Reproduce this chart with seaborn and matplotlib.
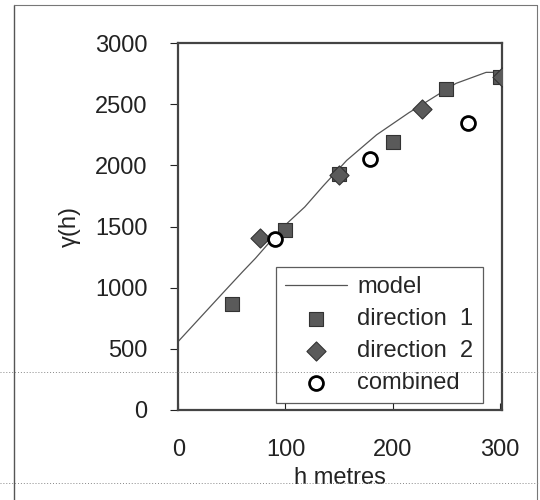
"""
Variogram chart: model curve with experimental semivariances.
"""

import numpy as np
import pandas as pd
import matplotlib
matplotlib.use('Agg')
import matplotlib.pyplot as plt
from matplotlib.lines import Line2D
import seaborn as sns

# model curve
h_model = [0, 42, 60, 72, 87, 102, 118, 135, 157, 185, 215, 259, 287, 300]
g_model = [560, 960, 1130, 1240, 1390, 1530, 1660, 1830, 2040, 2250, 2430, 2670, 2760, 2760]

# experimental points
h_dir1 = [50, 100, 150, 200, 250, 300]
g_dir1 = [870, 1470, 1930, 2190, 2620, 2720]

h_dir2 = [76, 150, 227, 302]
g_dir2 = [1410, 1920, 2460, 2720]

h_comb = [90, 179, 270]
g_comb = [1400, 2050, 2350]

x_ticks = [0, 100, 200, 300]
y_ticks = [0, 500, 1000, 1500, 2000, 2500, 3000]

sns.set_style('white')
plt.rcParams['font.family'] = ['Liberation Sans', 'DejaVu Sans']

FS = 17

fig = plt.figure(figsize=(5.4, 5.0), dpi=100)
ax = fig.add_axes([0.330, 0.180, 0.600, 0.734])

model_df = pd.DataFrame({'h': h_model, 'g': g_model})
sns.lineplot(data=model_df, x='h', y='g', ax=ax, color='#555555', lw=0.9,
             label='model', zorder=2)

sns.scatterplot(x=h_dir1, y=g_dir1, ax=ax, marker='s', s=115, color='#5a5a5a',
                edgecolor='#333333', linewidth=0.8, label='direction  1', zorder=3)
sns.scatterplot(x=h_dir2, y=g_dir2, ax=ax, marker='D', s=95, color='#5a5a5a',
                edgecolor='#333333', linewidth=0.8, label='direction  2', zorder=3)
sns.scatterplot(x=h_comb, y=g_comb, ax=ax, marker='o', s=100, color='white',
                edgecolor='black', linewidth=2.0, label='combined', zorder=4)

ax.set_xlim(0, 302)
ax.set_ylim(0, 3000)
ax.set_xticks(x_ticks)
ax.set_yticks(y_ticks)
ax.tick_params(axis='x', direction='in', length=5, pad=21, labelsize=FS, colors='#222222')
ax.tick_params(axis='y', direction='out', length=6, pad=16, labelsize=FS, colors='#222222')
ax.tick_params(axis='both', which='both', left=True, bottom=True)

for side in ['left', 'right', 'top', 'bottom']:
    ax.spines[side].set_color('#444444')
    ax.spines[side].set_linewidth(1.6)

ax.set_xlabel('h metres', fontsize=FS, labelpad=4, color='#222222')
ax.set_ylabel('γ(h)', fontsize=FS, labelpad=10, color='#222222')

leg = ax.legend(loc='lower right', bbox_to_anchor=(0.955, 0.005), fontsize=FS,
                frameon=True, fancybox=False, handlelength=2.6, labelspacing=0.42,
                handletextpad=0.45, borderpad=0.4, borderaxespad=0.2)
leg.get_frame().set_edgecolor('#333333')
leg.get_frame().set_linewidth(0.9)

# scan frame and dotted rules around the figure
fig.add_artist(Line2D([14 / 540, 14 / 540], [0, 0.99], color='#555555', lw=1.0))
fig.add_artist(Line2D([14 / 540, 537 / 540], [0.99, 0.99], color='#777777', lw=0.8))
fig.add_artist(Line2D([537 / 540, 537 / 540], [0, 0.99], color='#777777', lw=0.8))
fig.add_artist(Line2D([0, 1], [1 - 372 / 500, 1 - 372 / 500], color='#888888', lw=0.7,
                      ls=(0, (1, 2)), zorder=10))
fig.add_artist(Line2D([0, 1], [1 - 483 / 500, 1 - 483 / 500], color='#888888', lw=0.7,
                      ls=(0, (1, 2)), zorder=10))

fig.savefig('out.png', dpi=100)
